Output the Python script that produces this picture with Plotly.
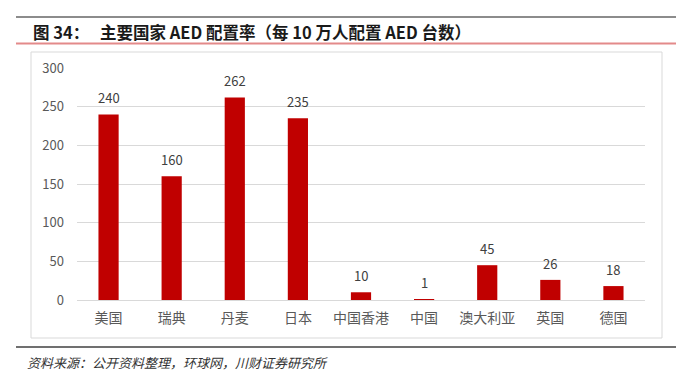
import plotly.graph_objects as go

categories = ["美国", "瑞典", "丹麦", "日本", "中国香港", "中国", "澳大利亚", "英国", "德国"]
values = [240, 160, 262, 235, 10, 1, 45, 26, 18]
y_ticks = [0, 50, 100, 150, 200, 250, 300]

W, H = 691, 376
L, R, T, B = 77, 645, 68, 300

def px_x(x):
    return (x - L) / (R - L)

def px_y(y):
    return (B - y) / (B - T)

FONT = "Noto Sans CJK SC, Noto Sans, sans-serif"

fig = go.Figure(go.Bar(
    x=categories, y=values,
    marker=dict(color="#C00000", line=dict(width=0)),
    width=0.32, hoverinfo="skip",
))

shapes = [
    dict(type="line", xref="paper", yref="paper", x0=px_x(16), x1=px_x(676), y0=px_y(17), y1=px_y(17),
         line=dict(color="#8C8C8C", width=2)),
    dict(type="line", xref="paper", yref="paper", x0=px_x(16), x1=px_x(676), y0=px_y(43.5), y1=px_y(43.5),
         line=dict(color="#E38A8A", width=2)),
    dict(type="rect", xref="paper", yref="paper", x0=px_x(31), x1=px_x(662), y0=px_y(52), y1=px_y(338),
         line=dict(color="#D9D9D9", width=1), layer="below"),
    dict(type="line", xref="paper", yref="paper", x0=px_x(16), x1=px_x(676), y0=px_y(347), y1=px_y(347),
         line=dict(color="#404040", width=1.5)),
]

annotations = [
    dict(text="<b>图 34：</b>", xref="paper", yref="paper",
         x=px_x(31), y=px_y(32), xanchor="left", yanchor="middle", showarrow=False,
         font=dict(family=FONT, size=16.5, color="#1a1a1a")),
    dict(text="<b>主要国家 AED 配置率（每 10 万人配置 AED 台数）</b>", xref="paper", yref="paper",
         x=px_x(98), y=px_y(32), xanchor="left", yanchor="middle", showarrow=False,
         font=dict(family=FONT, size=16.5, color="#1a1a1a")),
    dict(text="资料来源：公开资料整理，环球网，川财证券研究所", xref="paper", yref="paper",
         x=px_x(25), y=px_y(362), xanchor="left", yanchor="middle", showarrow=False,
         font=dict(family=FONT, size=13, color="#333333", style="italic")),
]

for c, v in zip(categories, values):
    annotations.append(dict(
        x=c, y=v, xref="x", yref="y", text=str(v), showarrow=False,
        yanchor="bottom", yshift=5,
        font=dict(family=FONT, size=13, color="#404040"),
    ))

fig.update_layout(
    width=W, height=H,
    margin=dict(l=L, r=W - R, t=T, b=H - B),
    paper_bgcolor="white", plot_bgcolor="white",
    showlegend=False,
    shapes=shapes, annotations=annotations,
    xaxis=dict(showgrid=False, showline=False, ticks="", ticklabelstandoff=8,
               tickfont=dict(family=FONT, size=14, color="#595959")),
    yaxis=dict(range=[0, 300], tickvals=y_ticks, showgrid=True, gridcolor="#D9D9D9", gridwidth=1,
               zeroline=True, zerolinecolor="#D9D9D9", zerolinewidth=1, showline=False, ticks="",
               tickfont=dict(family=FONT, size=13, color="#595959"), ticklabelstandoff=12),
)

fig.write_html("out.html", config={"displayModeBar": False},
               post_script="document.body.style.margin='0';document.body.style.overflow='hidden';")
